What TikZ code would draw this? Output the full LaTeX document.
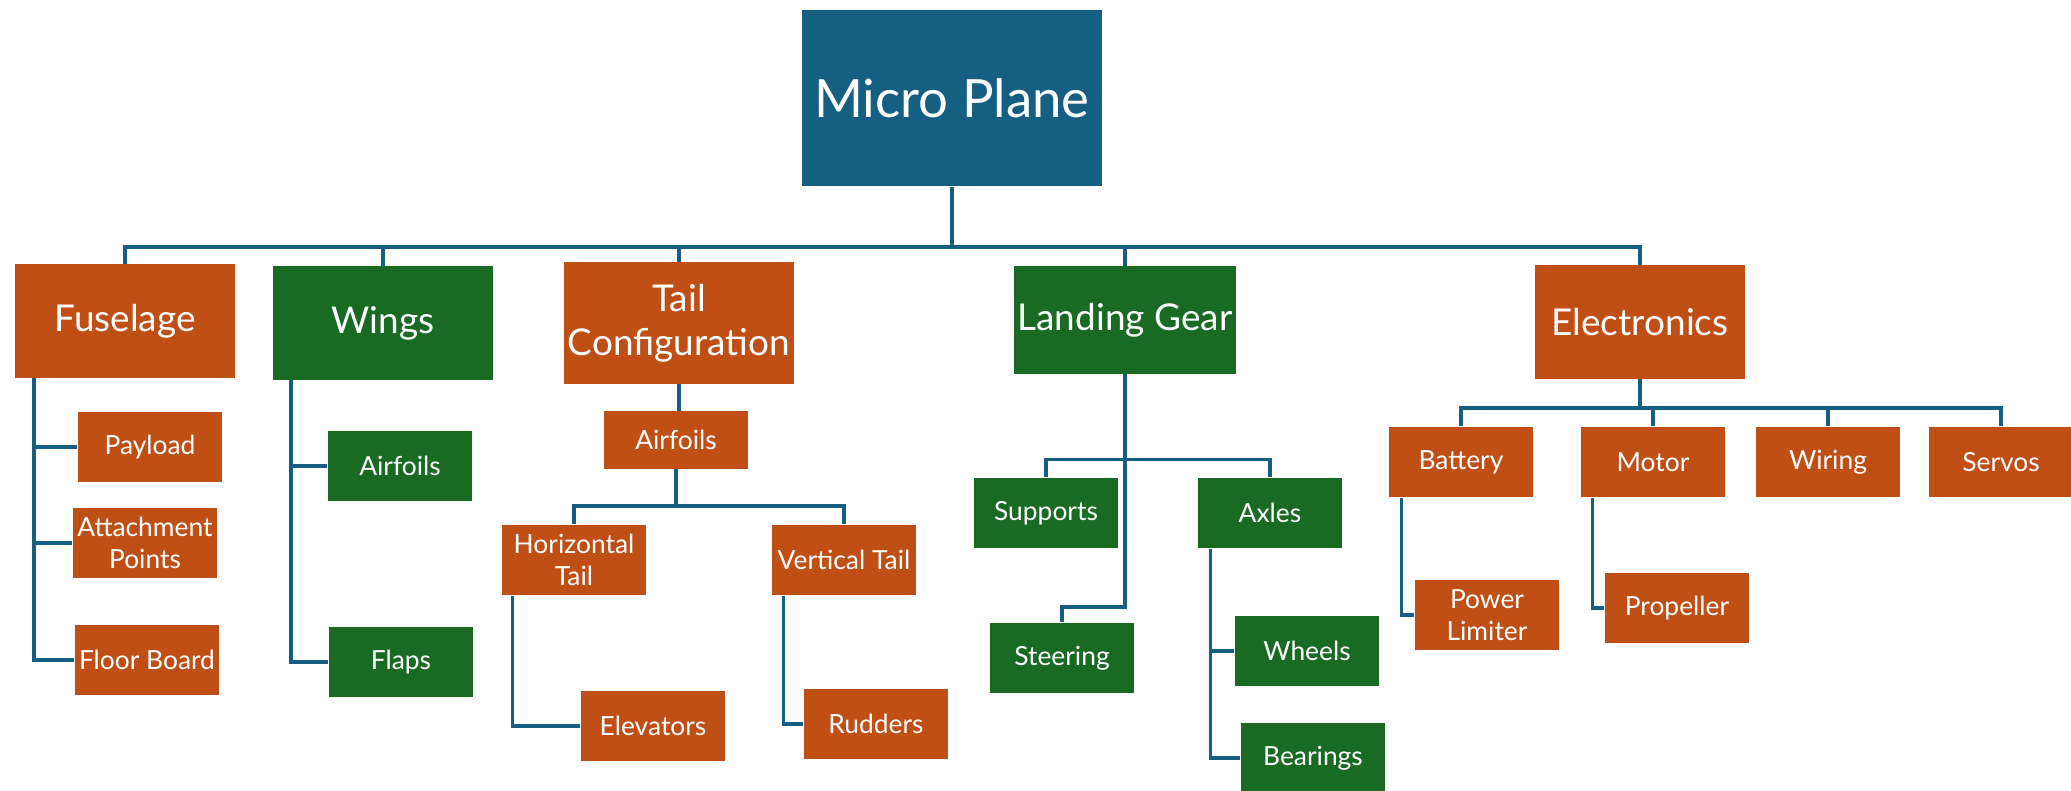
\documentclass[tikz,border=0pt]{standalone}
\usepackage{fontspec}
\setmainfont{Lato}
\definecolor{planeblue}{HTML}{156082}
\definecolor{partorange}{HTML}{C04F15}
\definecolor{partgreen}{HTML}{196B24}
\begin{document}
\begin{tikzpicture}[x=0.01cm,y=-0.01cm,
  box/.style={inner sep=1pt,align=center,text=white,font=\fontsize{7.5}{9}\selectfont,
    minimum width=1.44cm,minimum height=0.7cm},
  big/.style={box,font=\fontsize{10.5}{12.5}\selectfont,minimum width=2.2cm,minimum height=1.13cm},
  orange/.style={fill=partorange},
  green/.style={fill=partgreen},
  link/.style={draw=planeblue,line width=1pt}]
\useasboundingbox (0,0) rectangle (2071,790);
\node [box,fill=planeblue,font=\fontsize{15}{18}\selectfont,minimum width=3cm,minimum height=1.76cm] (plane) at (952,98) {Micro Plane};
\node [big,orange] (fuselage) at (125,321) {Fuselage};
\node [big,green] (wings) at (383,323) {Wings};
\node [big,orange,minimum width=2.28cm,minimum height=1.21cm] (tail) at (679,323) {Tail\\Configuration};
\node [big,green,minimum height=1.07cm] (gear) at (1125,320) {Landing Gear};
\node [big,orange,minimum width=2.09cm] (electronics) at (1640,322) {Electronics};
\node [box,orange] (payload) at (150,447) {Payload};
\node [box,orange] (attach) at (145,543) {Attachment\\Points};
\node [box,orange] (floor) at (147,660) {Floor Board};
\node [box,green] (wingfoil) at (400,466) {Airfoils};
\node [box,green] (flaps) at (401,662) {Flaps};
\node [box,orange,minimum height=0.57cm] (tailfoil) at (676,440) {Airfoils};
\node [box,orange] (htail) at (574,560) {Horizontal\\Tail};
\node [box,orange] (vtail) at (844,560) {Vertical Tail};
\node [box,orange] (elevators) at (653,726) {Elevators};
\node [box,orange] (rudders) at (876,724) {Rudders};
\node [box,green] (supports) at (1046,513) {Supports};
\node [box,green] (axles) at (1270,513) {Axles};
\node [box,green] (steering) at (1062,658) {Steering};
\node [box,green] (wheels) at (1307,651) {Wheels};
\node [box,green] (bearings) at (1313,758) {Bearings};
\node [box,orange] (battery) at (1461,462) {Battery};
\node [box,orange] (motor) at (1653,462) {Motor};
\node [box,orange] (wiring) at (1828,462) {Wiring};
\node [box,orange] (servos) at (2001,462) {Servos};
\node [box,orange] (limiter) at (1487,615) {Power\\Limiter};
\node [box,orange] (propeller) at (1677,608) {Propeller};
\draw [link] (plane.south) -- ++(0,60) coordinate (topbus);
\foreach \part in {fuselage,wings,tail,gear,electronics}
  \draw [link] (topbus) -| (\part.north);
\draw [link] ([xshift=0.2cm]fuselage.south west) |- (payload.west);
\draw [link] ([xshift=0.2cm]fuselage.south west) |- (attach.west);
\draw [link] ([xshift=0.2cm]fuselage.south west) |- (floor.west);
\draw [link] ([xshift=0.19cm]wings.south west) |- (wingfoil.west);
\draw [link] ([xshift=0.19cm]wings.south west) |- (flaps.west);
\draw [link] (tail.south) -- (tail.south |- tailfoil.north);
\draw [link] (tailfoil.south) -- ++(0,37) coordinate (tailbus);
\draw [link] (tailbus) -| (htail.north);
\draw [link] (tailbus) -| (vtail.north);
\draw [link] ([xshift=0.11cm]htail.south west) |- (elevators.west);
\draw [link] ([xshift=0.12cm]vtail.south west) |- (rudders.west);
\draw [link] (gear.south) -- ++(0,233) -| (steering.north);
\draw [link] (supports.north) -- ++(0,-18) -| (axles.north);
\draw [link] ([xshift=0.13cm]axles.south west) |- (wheels.west);
\draw [link] ([xshift=0.13cm]axles.south west) |- (bearings.west);
\draw [link] (electronics.south) -- ++(0,29) coordinate (elecbus);
\foreach \part in {battery,motor,wiring,servos}
  \draw [link] (elecbus) -| (\part.north);
\draw [link] ([xshift=0.13cm]battery.south west) |- (limiter.west);
\draw [link] ([xshift=0.12cm]motor.south west) |- (propeller.west);
\end{tikzpicture}
\end{document}
